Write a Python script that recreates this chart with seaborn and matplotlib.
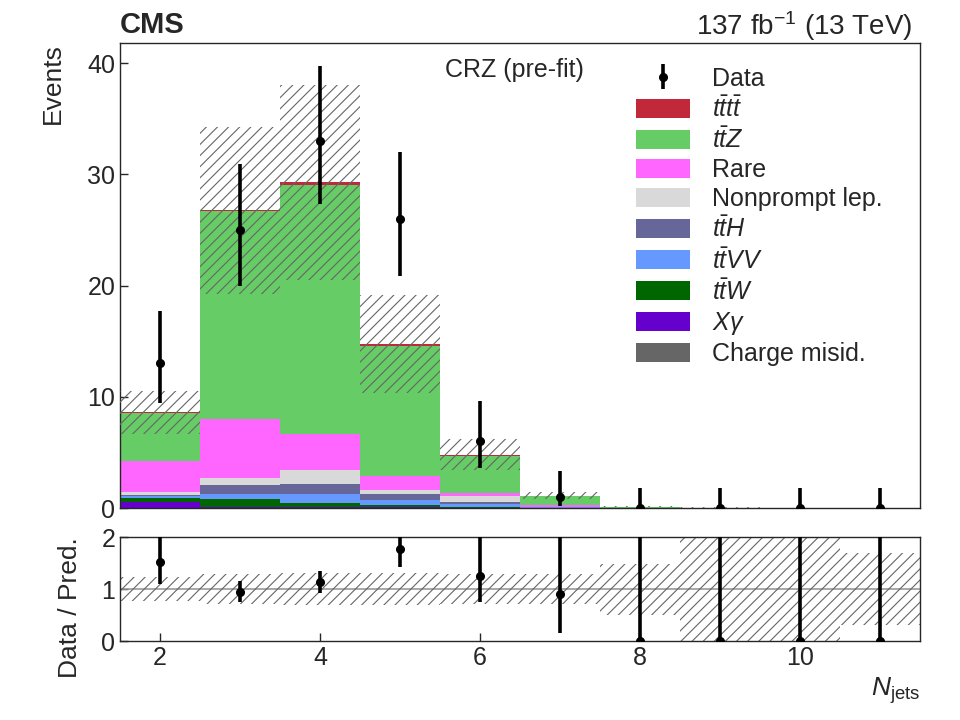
import numpy as np
import pandas as pd
import matplotlib
matplotlib.use("Agg")
import matplotlib.pyplot as plt
import matplotlib.patches as mpatches
import seaborn as sns

# ---------------- data ----------------
njets = [2, 3, 4, 5, 6, 7, 8, 9, 10, 11]
edges = [1.5, 2.5, 3.5, 4.5, 5.5, 6.5, 7.5, 8.5, 9.5, 10.5, 11.5]

# stacked predictions
charge_misid = [0.03, 0.03, 0.03, 0.02, 0.01, 0.0, 0.0, 0.0, 0.0, 0.0]
x_gamma = [0.55, 0.05, 0.05, 0.03, 0.02, 0.01, 0.0, 0.0, 0.0, 0.0]
ttw = [0.36, 0.75, 0.40, 0.20, 0.05, 0.02, 0.01, 0.0, 0.0, 0.0]
ttvv = [0.10, 0.42, 0.75, 0.50, 0.30, 0.03, 0.01, 0.0, 0.0, 0.0]
tth = [0.10, 0.80, 0.95, 0.55, 0.15, 0.02, 0.01, 0.0, 0.0, 0.0]
nonprompt = [0.30, 0.63, 1.20, 0.30, 0.55, 0.05, 0.0, 0.0, 0.0, 0.0]
rare = [2.80, 5.30, 3.30, 1.25, 0.30, 0.10, 0.01, 0.0, 0.0, 0.0]
ttz = [4.30, 18.7, 22.4, 11.7, 3.30, 0.85, 0.06, 0.02, 0.01, 0.01]
tttt = [0.05, 0.10, 0.20, 0.20, 0.10, 0.02, 0.0, 0.0, 0.0, 0.0]

# relative uncertainty of the total prediction
rel_unc = [0.23, 0.28, 0.30, 0.30, 0.29, 0.29, 0.49, 2.0, 2.0, 0.70]

# observed data with 68% intervals
data = [13, 25, 33, 26, 6, 1, 0, 0, 0, 0]
data_lo = [9.4, 20.0, 27.3, 20.9, 3.6, 0.17, 0, 0, 0, 0]
data_hi = [17.7, 30.9, 39.7, 32.0, 9.6, 3.3, 1.84, 1.84, 1.84, 1.84]

# legend order (top of the stack first)
processes = [r"$t\bar{t}t\bar{t}$", r"$t\bar{t}Z$", "Rare", "Nonprompt lep.",
             r"$t\bar{t}H$", r"$t\bar{t}VV$", r"$t\bar{t}W$", r"$X\gamma$",
             "Charge misid."]
colors = ["#c1283a", "#66cc66", "#ff66ff", "#d9d9d9", "#666699",
          "#6699ff", "#006600", "#6600cc", "#666666"]
stack = [tttt, ttz, rare, nonprompt, tth, ttvv, ttw, x_gamma, charge_misid]

# ---------------- style ----------------
sns.set_style("ticks")
plt.rcParams["font.family"] = ["Liberation Sans", "DejaVu Sans"]
plt.rcParams["mathtext.fontset"] = "custom"
plt.rcParams["mathtext.rm"] = "Liberation Sans"
plt.rcParams["mathtext.it"] = "Liberation Sans:italic"
plt.rcParams["mathtext.bf"] = "Liberation Sans:bold"
plt.rcParams["hatch.linewidth"] = 0.8
plt.rcParams["axes.linewidth"] = 1.0

fs = 18

rows = []
for proc, vals in zip(processes, stack):
    for x, w in zip(njets, vals):
        rows.append({"njets": x, "events": w, "process": proc})
df = pd.DataFrame(rows)

total = np.sum(np.array(stack), axis=0)
unc = total * np.array(rel_unc)
centers = np.array(njets, dtype=float)
data = np.array(data, dtype=float)

fig = plt.figure(figsize=(9.6, 7.2), dpi=100)
ax = fig.add_axes([0.125, 0.2944, 0.8333, 0.6458])
rax = fig.add_axes([0.125, 0.1097, 0.8333, 0.1444], sharex=ax)

# ---------------- main panel ----------------
# seaborn puts the first hue level on top of the stack
sns.histplot(data=df, x="njets", weights="events", hue="process",
             hue_order=processes, palette=colors, multiple="stack",
             bins=edges, element="bars", linewidth=0, alpha=1,
             shrink=1, legend=False, ax=ax)

ax.bar(centers, 2 * unc, width=1.0, bottom=total - unc, fill=False,
       hatch="///", edgecolor="#666666", linewidth=0, zorder=3)

data_h = ax.errorbar(centers, data, yerr=[data - np.array(data_lo), np.array(data_hi) - data],
                     fmt="o", color="black", ms=5.5, elinewidth=2.6, capsize=0,
                     zorder=5, label="Data")

ax.set_xlim(1.5, 11.5)
ax.set_ylim(0, 41.8)
ax.set_yticks([0, 10, 20, 30, 40])
ax.set_xticks([2, 4, 6, 8, 10])
ax.tick_params(axis="both", direction="in", length=6, width=1, labelsize=fs)
ax.tick_params(axis="x", labelbottom=False)
ax.set_xlabel("")
ax.set_ylabel("Events", fontsize=fs + 1, loc="top", labelpad=16)

ax.text(0.0, 1.022, "CMS", transform=ax.transAxes, fontsize=fs + 3,
        fontweight="bold", ha="left", va="baseline")
ax.text(0.99, 1.018, r"137 fb$^{-1}$ (13 TeV)", transform=ax.transAxes,
        fontsize=fs + 2, ha="right", va="baseline")
ax.text(0.406, 0.942, "CRZ (pre-fit)", transform=ax.transAxes,
        fontsize=fs, ha="left", va="center")

handles = [data_h] + [mpatches.Patch(facecolor=c, edgecolor="none") for c in colors]
labels = ["Data"] + processes
ax.legend(handles, labels, loc="upper left", bbox_to_anchor=(0.645, 0.949),
          frameon=False, fontsize=fs, handlelength=2.15, handleheight=0.8,
          handletextpad=0.9, labelspacing=0.21, borderpad=0, borderaxespad=0)

# ---------------- ratio panel ----------------
safe = np.where(total > 0, total, 1.0)
ratio = data / safe
r_lo = (data - np.array(data_lo)) / safe
r_hi = (np.array(data_hi) - data) / safe

rax.bar(centers, 2 * np.array(rel_unc), width=1.0, bottom=1 - np.array(rel_unc),
        fill=False, hatch="///", edgecolor="#666666", linewidth=0, zorder=2)
rax.axhline(1.0, color="#999999", lw=1.2, zorder=1)
rax.errorbar(centers, ratio, yerr=[r_lo, r_hi], fmt="o", color="black",
             ms=5.5, elinewidth=2.6, capsize=0, zorder=5)

rax.set_ylim(0, 2)
rax.set_yticks([0, 1, 2])
rax.tick_params(axis="both", direction="in", length=6, width=1, labelsize=fs)
rax.set_ylabel("Data / Pred.", fontsize=fs + 1, loc="top", labelpad=14)
rax.set_xlabel(r"$N_{\mathrm{jets}}$", fontsize=fs + 1, loc="right")

fig.savefig("out.png", dpi=100)
